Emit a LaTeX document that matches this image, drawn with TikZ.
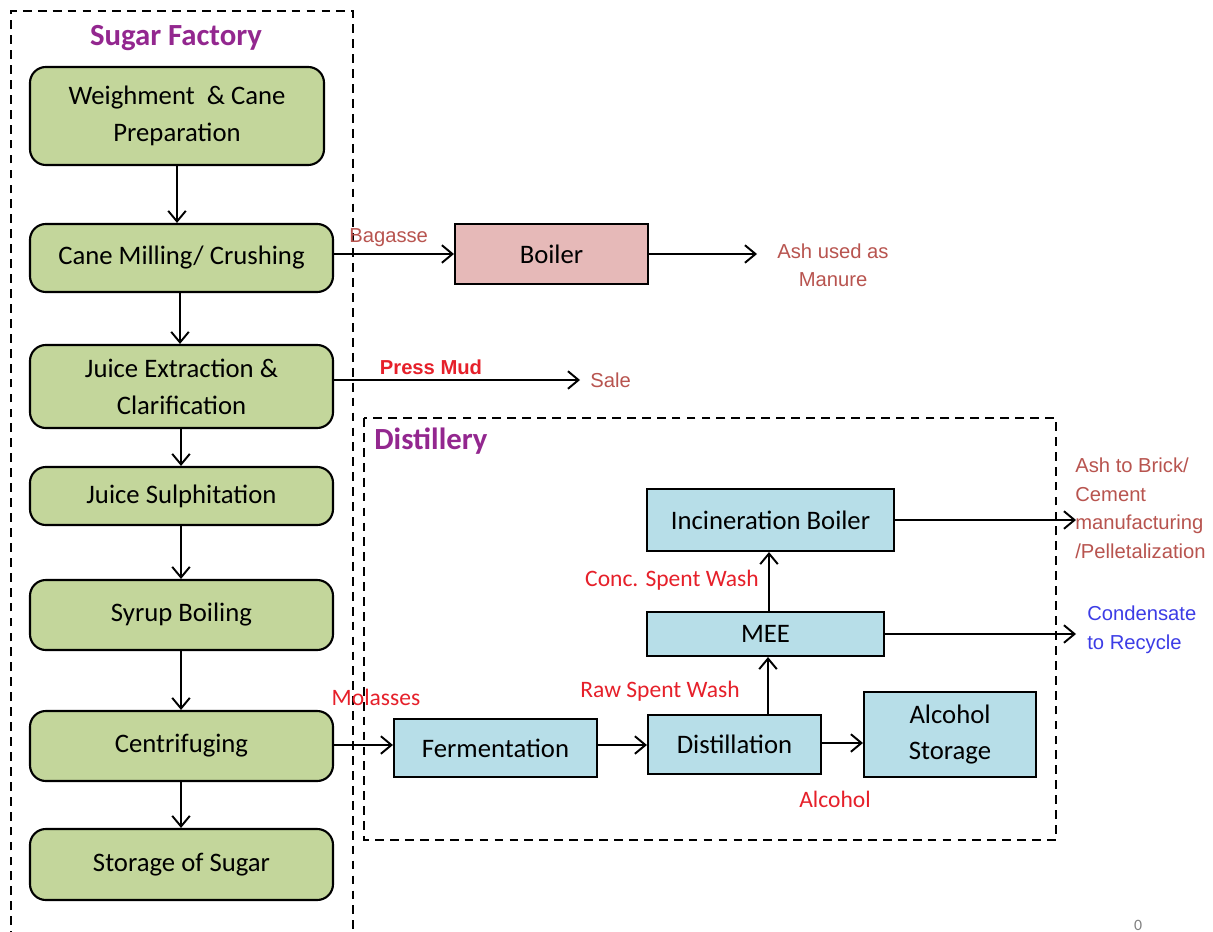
\documentclass[tikz,border=0pt]{standalone}
\usepackage{fontspec}
\setmainfont{Carlito}
\newfontfamily\arialf{Liberation Sans}
\usetikzlibrary{arrows.meta}
\definecolor{gfill}{HTML}{C3D69B}
\definecolor{pfill}{HTML}{E6B9B8}
\definecolor{bfill}{HTML}{B7DEE8}
\definecolor{ashc}{HTML}{B8544F}
\definecolor{purp}{HTML}{93278F}
\definecolor{redl}{HTML}{E6202A}
\definecolor{bluel}{HTML}{3C3CE6}
\tikzset{
  gbox/.style={draw=black, line width=1.2pt, fill=gfill, rounded corners=9pt, align=center, font=\fontsize{15.2}{21}\selectfont, inner sep=0pt},
  pbox/.style={draw=black, line width=1.2pt, fill=pfill, align=center, font=\fontsize{15.2}{21}\selectfont, inner sep=0pt},
  bbox/.style={draw=black, line width=1.2pt, fill=bfill, align=center, font=\fontsize{15.2}{21}\selectfont, inner sep=0pt},
  flow/.style={draw=black, line width=1.1pt, -{Straight Barb[length=6pt,width=10pt,line width=1.1pt]}},
  region/.style={draw=black, line width=1.1pt, dash pattern=on 5pt off 3.5pt},
  ashlbl/.style={text=ashc, font=\arialf\fontsize{11.5}{16}\selectfont, align=center, inner sep=0pt},
  redlbl/.style={text=redl, font=\fontsize{13.4}{16}\selectfont, inner sep=0pt},
  title/.style={text=purp, font=\bfseries\fontsize{17.5}{20}\selectfont, inner sep=0pt}
}
\begin{document}
\begin{tikzpicture}[x=0.02cm, y=-0.02cm]
\useasboundingbox (0,0) rectangle (1213,932);
\fill[white] (0,0) rectangle (1213,932);
% regions
\draw[region] (11,940) -- (11,11) -- (353,11) -- (353,940);
\draw[region] (364,418) rectangle (1056,840);
\node[title] (sft) at (176,38) {Sugar Factory};
\node[title, anchor=west] (dst) at (374,441) {Distillery};
% sugar factory boxes
\node[gbox, minimum width={294*0.02cm}, minimum height={98*0.02cm}] (w) at (177,116) {Weighment \ \& Cane\\Preparation};
\node[gbox, minimum width={303*0.02cm}, minimum height={68*0.02cm}] (cm) at (181.5,258) {Cane Milling/ Crushing};
\node[gbox, minimum width={303*0.02cm}, minimum height={83*0.02cm}] (je) at (181.5,386.5) {Juice Extraction \&\\Clarification};
\node[gbox, minimum width={303*0.02cm}, minimum height={58*0.02cm}] (js) at (181.5,496) {Juice Sulphitation};
\node[gbox, minimum width={303*0.02cm}, minimum height={70*0.02cm}] (sb) at (181.5,615) {Syrup Boiling};
\node[gbox, minimum width={303*0.02cm}, minimum height={70*0.02cm}] (cf) at (181.5,746) {Centrifuging};
\node[gbox, minimum width={303*0.02cm}, minimum height={71*0.02cm}] (ss) at (181.5,864.5) {Storage of Sugar};
\draw[flow] (w.south -| 177,0) -- (cm.north -| 177,0);
\draw[flow] (cm.south -| 180,0) -- (je.north -| 180,0);
\draw[flow] (je.south -| 181,0) -- (js.north -| 181,0);
\draw[flow] (js.south -| 181,0) -- (sb.north -| 181,0);
\draw[flow] (sb.south -| 181,0) -- (cf.north -| 181,0);
\draw[flow] (cf.south -| 181,0) -- (ss.north -| 181,0);
% boiler
\node[pbox, minimum width={193*0.02cm}, minimum height={60*0.02cm}] (boil) at (551.5,254) {Boiler};
\node[ashlbl] (ash) at (833,265) {Ash used as\\Manure};
\coordinate (ashend) at (757,254);
\draw[flow] (cm.east |- 0,254) -- (boil.west);
\node[ashlbl, anchor=west] (bag) at (349,238) {Bagasse};
\draw[flow] (boil.east) -- (ashend);
% press mud
\coordinate (saleend) at (580,380);
\draw[flow] (je.east |- 0,380) -- (saleend);
\node[text=redl, font=\arialf\bfseries\fontsize{11.5}{14}\selectfont, inner sep=0pt] (pm) at (431,367) {Press Mud};
\node[ashlbl, anchor=west] (sale) at (590,380) {Sale};
% distillery
\node[bbox, minimum width={247*0.02cm}, minimum height={62*0.02cm}] (inc) at (770.5,520) {Incineration Boiler};
\node[bbox, minimum width={237*0.02cm}, minimum height={44*0.02cm}] (mee) at (765.5,634) {MEE};
\node[bbox, minimum width={203*0.02cm}, minimum height={58*0.02cm}] (fer) at (495.5,748) {Fermentation};
\node[bbox, minimum width={173*0.02cm}, minimum height={59*0.02cm}] (dis) at (734.5,744.5) {Distillation};
\node[bbox, minimum width={172*0.02cm}, minimum height={85*0.02cm}] (als) at (950,734.5) {Alcohol\\Storage};
\draw[flow] (cf.east |- 0,745) -- (fer.west |- 0,745);
\draw[flow] (fer.east |- 0,745) -- (dis.west |- 0,745);
\draw[flow] (dis.east |- 0,743) -- (als.west |- 0,743);
\draw[flow] (dis.north -| 768,0) -- (mee.south -| 768,0);
\draw[flow] (mee.north -| 769,0) -- (inc.south -| 769,0);
\coordinate (brickend) at (1076,520);
\coordinate (condend) at (1076,634);
\draw[flow] (inc.east) -- (brickend);
\draw[flow] (mee.east) -- (condend);
\node[redlbl] (mol) at (376,697) {Molasses};
\node[redlbl] (rsw) at (660,691) {Raw Spent Wash};
\node[redlbl] (alc) at (835,799) {Alcohol};
\node[redlbl] (csw) at (672,580) {Conc. Spent Wash};
\node[ashlbl, align=left, anchor=north west, font=\arialf\fontsize{11.5}{16.2}\selectfont] (brick) at (1075,458) {Ash to Brick/\\Cement\\manufacturing\\/Pelletalization};
\node[ashlbl, text=bluel, align=left, anchor=north west, font=\arialf\fontsize{11.5}{16.2}\selectfont] (cond) at (1087,606) {Condensate\\to Recycle};
\node[text=gray, font=\fontsize{9}{10}\selectfont, inner sep=0pt] (pg) at (1138,925) {0};
\end{tikzpicture}
\end{document}
